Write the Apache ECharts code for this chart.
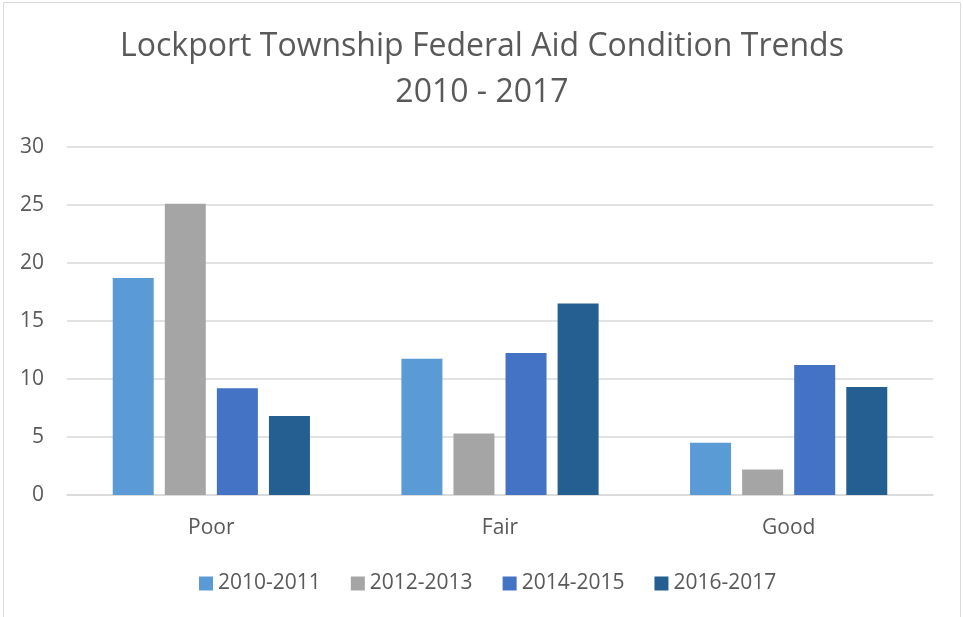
<!DOCTYPE html>
<html>
<head>
<meta charset="utf-8">
<script src="https://cdn.jsdelivr.net/npm/echarts@6/dist/echarts.min.js"></script>
<style>
  html, body { margin: 0; padding: 0; background: #fff; }
  #chart { width: 963px; height: 617px; }
</style>
</head>
<body>
<div id="chart"></div>
<script>
// condition categories on the x axis
const categories = ['Poor', 'Fair', 'Good'];

// one series per reporting period
const periods = ['2010-2011', '2012-2013', '2014-2015', '2016-2017'];
const values2010 = [18.7, 11.75, 4.5];
const values2012 = [25.1, 5.3, 2.2];
const values2014 = [9.2, 12.25, 11.2];
const values2016 = [6.8, 16.5, 9.3];

const titleLines = ['Lockport Township Federal Aid Condition Trends', '2010 - 2017'];

const colors = ['#5B9BD5', '#A5A5A5', '#4472C4', '#255E91'];
const font = '"Open Sans", sans-serif';
const textColor = '#595959';

const chart = echarts.init(document.getElementById('chart'));

const seriesData = [values2010, values2012, values2014, values2016];

chart.setOption({
  animation: false,
  color: colors,
  graphic: [
    {
      type: 'rect',
      shape: { x: 3.5, y: 2.5, width: 957, height: 700 },
      style: { fill: 'none', stroke: '#d9d9d9', lineWidth: 1 },
      silent: true,
    },
    ...titleLines.map((line, i) => ({
      type: 'text',
      x: 482,
      y: 47 + i * 46,
      style: {
        text: line,
        fontFamily: font,
        fontSize: 32,
        fill: textColor,
        textAlign: 'center',
        textVerticalAlign: 'middle',
      },
      silent: true,
    })),
  ],
  legend: {
    data: periods,
    top: 568,
    left: 194,
    padding: 5,
    itemWidth: 14,
    itemHeight: 14,
    itemGap: 30,
    icon: 'rect',
    textStyle: { fontFamily: font, fontSize: 21, color: textColor },
  },
  grid: { left: 67, right: 30, top: 147, bottom: 122 },
  xAxis: {
    type: 'category',
    data: categories,
    axisLine: { lineStyle: { color: '#d9d9d9', width: 1.5 } },
    axisTick: { show: false },
    axisLabel: { fontFamily: font, fontSize: 21, color: textColor, margin: 23 },
  },
  yAxis: {
    type: 'value',
    min: 0,
    max: 30,
    interval: 5,
    axisLine: { show: false },
    axisTick: { show: false },
    splitLine: { lineStyle: { color: '#d9d9d9', width: 1.5 } },
    axisLabel: { fontFamily: font, fontSize: 21, color: textColor, margin: 23 },
  },
  series: periods.map((name, i) => ({
    name,
    type: 'bar',
    data: seriesData[i],
    barWidth: 41,
    barGap: '27%',
  })),
});
</script>
</body>
</html>
